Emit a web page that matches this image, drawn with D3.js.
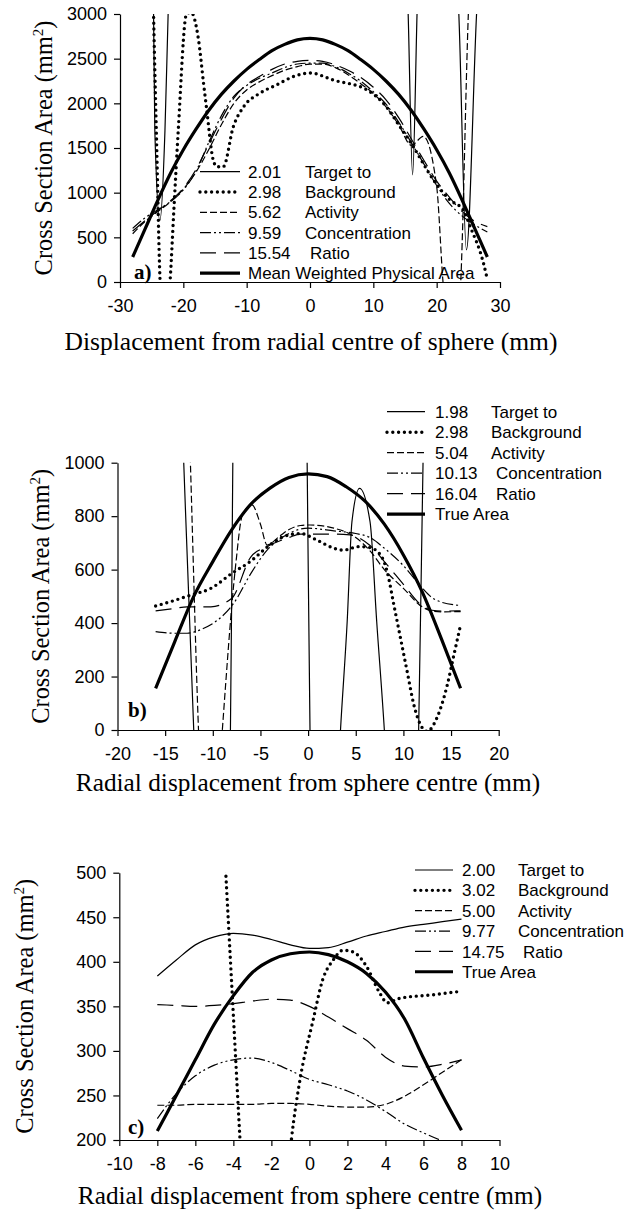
<!DOCTYPE html>
<html><head><meta charset="utf-8">
<script src="https://cdn.jsdelivr.net/npm/d3@7"></script>
<style>html,body{margin:0;padding:0;background:#fff;} svg{display:block;}</style>
</head><body>
<svg id="chart" width="624" height="1213"></svg>
<script>
// ---------------- Panel a data ----------------
const a_xTicks = [-30,-20,-10,0,10,20,30];
const a_yTicks = [0,500,1000,1500,2000,2500,3000];
const a_legNums = ["2.01","2.98","5.62","9.59","15.54"];
const a_legNames = ["Target to","Background","Activity","Concentration","Ratio"];
const a_legLast = "Mean Weighted Physical Area";

const a_x_true = [-28,-26,-24,-22,-20,-18,-16,-14,-12,-10,-8,-6,-4,-2,0,2,4,6,8,10,12,14,16,18,20,22,24,26,28];
const a_y_true = [280,600,920,1220,1480,1710,1920,2100,2250,2380,2490,2590,2660,2710,2727,2710,2660,2590,2490,2380,2250,2100,1920,1710,1480,1220,920,600,280];

const a_x_201 = [-26,-24.7,-24.5,-23.7,-22.9,-22.4,-21,-10,0,10,14,15.5,16.2,16.9,18,20,23.5,24.7,26.3,28];
const a_y_201 = [9000,3000,1700,690,1700,3000,6000,9000,9000,9000,6000,3000,1200,3000,6000,6000,3000,360,3000,5000];

const a_x_298 = [-26,-24.7,-24.2,-23.7,-23,-22.1,-21.5,-20.8,-19.5,-18.8,-17.6,-16.8,-16.3,-15.3,-14.7,-13.7,-12.1,-10.5,-8,-5.3,-2.6,0,3.7,9,11.6,14.2,16.3,19.5,22.1,24.2,25.3,27.4,27.9];
const a_y_298 = [9000,3000,1500,60,-600,0,800,1700,3000,3020,2710,2220,1925,1370,1290,1290,1740,1960,2110,2205,2300,2340,2260,2150,2000,1740,1515,1142,918,806,619,208,60];

const a_x_562 = [-28,-26,-24,-22,-20,-18,-16,-14,-12,-10,-8,-6,-4,-2,0,2,4,6,8,10,12,14,16,17.9,20,21,22,23,23.8,25,26,28];
const a_y_562 = [540,680,790,900,1040,1230,1480,1760,2000,2150,2240,2310,2370,2410,2440,2440,2400,2320,2220,2110,1960,1760,1530,1630,1070,0,-700,-700,0,3000,4500,6000];

const a_x_959 = [-28,-26,-24,-22,-20,-18,-16,-14,-12,-10,-8,-6,-4,-2,0,2,4,6,8,10,12,14,16,18,20,22,24,26,28];
const a_y_959 = [600,720,810,900,1030,1240,1560,1860,2080,2200,2280,2340,2400,2440,2450,2450,2410,2340,2250,2130,1990,1790,1560,1320,1080,880,740,640,560];

const a_x_1554 = [-28,-26,-24,-22,-20,-18,-16,-14,-12,-10,-8,-6,-4,-2,0,2,4,6,8,10,12,14,16,18,20,22,24,26,28];
const a_y_1554 = [570,690,800,910,1050,1260,1540,1820,2060,2210,2300,2380,2440,2470,2480,2470,2430,2370,2290,2180,2040,1840,1600,1360,1130,950,790,680,620];

// ---------------- Panel b data ----------------
const b_xTicks = [-20,-15,-10,-5,0,5,10,15,20];
const b_yTicks = [0,200,400,600,800,1000];
const b_legNums = ["1.98","2.98","5.04","10.13","16.04"];
const b_legNames = ["Target to","Background","Activity","Concentration","Ratio"];
const b_legLast = "True Area";

const b_x_true = [-16,-14,-12,-10,-8,-6,-4,-2,0,2,4,6,8,10,12,14,16];
const b_y_true = [156,330,500,630,750,845,905,945,958,948,910,855,770,655,515,340,156];

const b_x_198 = [-16,-14,-13.05,-12,-10,-8.15,-7.9,-7,-1,-0.1,0.2,1.5,3.4,4.1,4.6,5.4,6.5,7.2,8,10,11.6,12.06,14,16];
const b_y_198 = [5000,1950,1000,0,-1500,0,1000,3000,3000,1000,0,-1500,0,405,779,904,779,405,0,-1500,0,1000,4000,6000];

const b_x_298 = [-16,-14,-12.3,-10.2,-8,-6,-4.3,-2.6,-0.8,0.9,2.7,3.7,5.3,6.5,7.6,8.3,9,9.7,10.4,11.1,11.8,12.5,13.5,14.6,15.3,16];
const b_y_298 = [464,485,505,530,586,632,684,723,735,711,680,673,686,682,655,592,468,343,218,94,19,-5,44,168,281,393];

const b_x_504 = [-16,-14,-12.35,-11.5,-10.3,-9,-7.6,-6.9,-5.9,-5,-4.3,-3,-2,-0.8,0.2,2.7,5,6.5,8,10,12,13,14,16];
const b_y_504 = [6000,3000,1000,0,-700,0,617,804,842,770,692,725,750,765,767,755,720,670,600,530,460,445,442,443];

const b_x_1013 = [-16,-14,-12.7,-11,-9.5,-7.8,-6,-4.3,-2.6,0,2.7,5,6.5,8,10,12,13,14,16];
const b_y_1013 = [368,362,362,380,411,474,586,673,723,755,745,735,720,680,615,530,495,478,466];

const b_x_1604 = [-16,-14,-12.7,-10.2,-8,-6,-4.3,-2,-0.8,2.7,4.4,6.5,8,10,11.8,13,14,16];
const b_y_1604 = [446,455,461,461,493,648,686,720,733,733,730,690,630,545,470,448,445,446];

// ---------------- Panel c data ----------------
const c_xTicks = [-10,-8,-6,-4,-2,0,2,4,6,8,10];
const c_yTicks = [200,250,300,350,400,450,500];
const c_legNums = ["2.00","3.02","5.00","9.77","14.75"];
const c_legNames = ["Target to","Background","Activity","Concentration","Ratio"];
const c_legLast = "True Area";

const c_x = [-8,-7,-6,-5,-4,-3,-2,-1,0,1,2,3,4,5,6,7,8];
const c_y_true = [210,250,290,330,362,388,402,409,411,408,400,387,366,336,292,250,211];
const c_y_200 = [384,402,419,428,432,430,425,419,415,416,422,429,434,439,442,445,448];
const c_y_500 = [239,239,240,240,240,240,241,241,240,238,237,237,240,249,262,276,290];
const c_y_977 = [224,252,272,284,290,292,287,278,268,262,255,245,232,218,208,199,192];
const c_y_1475 = [352,351,350,351,353,356,358,357,350,338,325,312,293,283,282,285,290];
const c_x_302 = [-8,-6,-5,-4.4,-4,-3.65,-3,-2,-0.95,-0.5,0.2,0.7,1.25,1.77,2.3,3,3.7,4.1,4.75,6.5,8];
const c_y_302 = [1900,1100,740,500,340,200,-40,-100,200,267,335,380,402,413,411,395,365,354,359,363,367];

// ---------------- styles ----------------
const STY = {
  solid:    {w:1.2, dash:null, cap:"butt"},
  dotted:   {w:3.4, dash:"0 5.8", cap:"round"},
  dashed:   {w:1.2, dash:"7 3", cap:"butt"},
  dashdot:  {w:1.2, dash:"11 3 2 3 2 3", cap:"butt"},
  longdash: {w:1.2, dash:"16 8", cap:"butt"},
  thick:    {w:3.2, dash:null, cap:"butt"}
};
const legOrder = ["solid","dotted","dashed","dashdot","longdash","thick"];

const svg = d3.select("#chart");
svg.append("rect").attr("width",624).attr("height",1213).attr("fill","#fff");

function zip(xs, ys){ return xs.map((v,i)=>[v, ys[i]]); }

function drawPanel(cfg, idx){
  const x = d3.scaleLinear().domain(cfg.xDom).range([cfg.left, cfg.right]);
  const y = d3.scaleLinear().domain(cfg.yDom).range([cfg.bottom, cfg.top]);
  const g = svg.append("g");
  const cid = "clip"+idx;
  svg.append("defs").append("clipPath").attr("id",cid)
    .append("rect").attr("x",cfg.left).attr("y",cfg.top)
    .attr("width",cfg.right-cfg.left).attr("height",cfg.bottom-cfg.top);

  const line = d3.line().x(d=>x(d[0])).y(d=>y(d[1])).curve(d3.curveMonotoneX);
  const plot = g.append("g").attr("clip-path","url(#"+cid+")");
  cfg.series.forEach(s=>{
    const st = STY[s.style];
    plot.append("path").datum(zip(s.x, s.y))
      .attr("d", line).attr("fill","none").attr("stroke","#000")
      .attr("stroke-width", st.w).attr("stroke-linecap", st.cap)
      .attr("stroke-linejoin","round")
      .attr("stroke-dasharray", st.dash);
  });

  // axes
  const xa = g.append("g").attr("transform","translate(0,"+cfg.bottom+")")
    .call(d3.axisBottom(x).tickValues(cfg.xTicks).tickSize(6).tickSizeOuter(0)
      .tickPadding(cfg.xPad).tickFormat(d=>String(d)));
  const ya = g.append("g").attr("transform","translate("+cfg.left+",0)")
    .call(d3.axisLeft(y).tickValues(cfg.yTicks).tickSize(6).tickSizeOuter(0)
      .tickPadding(7).tickFormat(d=>String(d)));
  [xa,ya].forEach(a=>{
    a.attr("font-family","'Liberation Sans', Arial, sans-serif").attr("font-size",18);
    a.selectAll("path,line").attr("stroke","#000").attr("stroke-width",1.2);
    a.selectAll("text").attr("fill","#000");
  });

  // titles
  g.append("text").attr("x", cfg.xTitleX).attr("y", cfg.xTitleY)
    .attr("text-anchor","middle").attr("font-family","'Liberation Serif', 'Times New Roman', serif")
    .attr("font-size", cfg.xTitleSize).text(cfg.xTitle);
  const yt = g.append("text")
    .attr("transform","translate("+cfg.yTitleX+","+((cfg.top+cfg.bottom)/2)+") rotate(-90)")
    .attr("text-anchor","middle").attr("font-family","'Liberation Serif', 'Times New Roman', serif")
    .attr("font-size", 24.4);
  yt.append("tspan").text("Cross Section Area (mm");
  yt.append("tspan").attr("dy",-9).attr("font-size",15).text("2");
  yt.append("tspan").attr("dy",9).text(")");

  // panel label
  g.append("text").attr("x", cfg.labX).attr("y", cfg.labY)
    .attr("font-family","'Liberation Serif', 'Times New Roman', serif")
    .attr("font-weight","bold").attr("font-size",21).text(cfg.label);

  // legend
  const L = cfg.leg;
  const lg = g.append("g").attr("font-family","'Liberation Sans', Arial, sans-serif").attr("font-size",17);
  legOrder.forEach((sty,i)=>{
    const yy = L.y0 + i*L.dy;
    const st = STY[sty];
    lg.append("line").attr("x1",L.x1).attr("x2",L.x2).attr("y1",yy).attr("y2",yy)
      .attr("stroke","#000").attr("stroke-width",st.w).attr("stroke-linecap",st.cap)
      .attr("stroke-dasharray",st.dash);
    if(i<5){
      lg.append("text").attr("x",L.numX).attr("y",yy).attr("dy","0.36em").text(cfg.legNums[i]);
      lg.append("text").attr("x",L.nameX + (L.shift[i]||0)).attr("y",yy).attr("dy","0.36em").text(cfg.legNames[i]);
    } else {
      lg.append("text").attr("x",L.numX).attr("y",yy).attr("dy","0.36em").text(cfg.legLast);
    }
  });
}

const panels = [
  { xDom:[-30,30], yDom:[0,3000], left:120, right:500, top:14, bottom:282,
    xTicks:a_xTicks, yTicks:a_yTicks, xPad:11,
    xTitle:"Displacement from radial centre of sphere (mm)", xTitleX:311, xTitleY:350, xTitleSize:25.5,
    yTitleX:52, label:"a)", labX:134, labY:279,
    legNums:a_legNums, legNames:a_legNames, legLast:a_legLast,
    leg:{x1:200,x2:240,numX:248,nameX:305,y0:171.7,dy:20.3,shift:[0,0,0,0,5]},
    series:[
      {x:a_x_201,y:a_y_201,style:"solid"},
      {x:a_x_298,y:a_y_298,style:"dotted"},
      {x:a_x_562,y:a_y_562,style:"dashed"},
      {x:a_x_959,y:a_y_959,style:"dashdot"},
      {x:a_x_1554,y:a_y_1554,style:"longdash"},
      {x:a_x_true,y:a_y_true,style:"thick"}
    ]},
  { xDom:[-20,20], yDom:[0,1000], left:117.5, right:498.7, top:462.7, bottom:730,
    xTicks:b_xTicks, yTicks:b_yTicks, xPad:11,
    xTitle:"Radial displacement from sphere centre (mm)", xTitleX:308, xTitleY:791, xTitleSize:25.3,
    yTitleX:49, label:"b)", labX:128, labY:717,
    legNums:b_legNums, legNames:b_legNames, legLast:b_legLast,
    leg:{x1:387,x2:425,numX:435,nameX:491,y0:411.7,dy:20.5,shift:[0,0,0,5,5]},
    series:[
      {x:b_x_198,y:b_y_198,style:"solid"},
      {x:b_x_298,y:b_y_298,style:"dotted"},
      {x:b_x_504,y:b_y_504,style:"dashed"},
      {x:b_x_1013,y:b_y_1013,style:"dashdot"},
      {x:b_x_1604,y:b_y_1604,style:"longdash"},
      {x:b_x_true,y:b_y_true,style:"thick"}
    ]},
  { xDom:[-10,10], yDom:[200,500], left:119.3, right:499.5, top:872.7, bottom:1140,
    xTicks:c_xTicks, yTicks:c_yTicks, xPad:11,
    xTitle:"Radial displacement from sphere centre (mm)", xTitleX:310, xTitleY:1204, xTitleSize:25.3,
    yTitleX:33, label:"c)", labX:128, labY:1134,
    legNums:c_legNums, legNames:c_legNames, legLast:c_legLast,
    leg:{x1:415,x2:453,numX:462,nameX:518,y0:870,dy:20.35,shift:[0,0,0,0,5]},
    series:[
      {x:c_x,y:c_y_200,style:"solid"},
      {x:c_x_302,y:c_y_302,style:"dotted"},
      {x:c_x,y:c_y_500,style:"dashed"},
      {x:c_x,y:c_y_977,style:"dashdot"},
      {x:c_x,y:c_y_1475,style:"longdash"},
      {x:c_x,y:c_y_true,style:"thick"}
    ]}
];
panels.forEach((p,i)=>drawPanel(p,i));
</script>
</body></html>
